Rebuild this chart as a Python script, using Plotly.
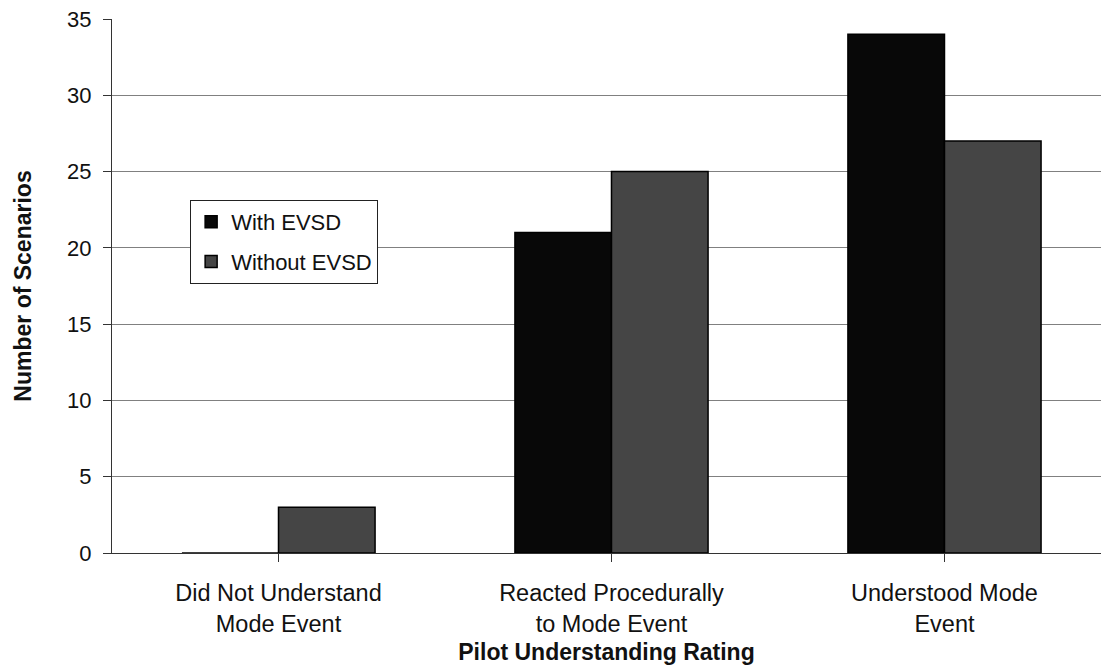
import plotly.graph_objects as go

categories = ["Did Not Understand<br>Mode Event",
              "Reacted Procedurally<br>to Mode Event",
              "Understood Mode<br>Event"]
with_evsd = [0, 21, 34]
without_evsd = [3, 25, 27]
y_ticks = [0, 5, 10, 15, 20, 25, 30, 35]

FONT = "Arial, Liberation Sans, Helvetica, sans-serif"
INK = "#111111"

fig = go.Figure()
fig.add_trace(go.Bar(x=[0, 1, 2], y=with_evsd, name="With EVSD", legendgroup="a",
                     marker=dict(color="#080808", line=dict(color="#000000", width=1.5))))
fig.add_trace(go.Bar(x=[0, 1, 2], y=without_evsd, name="Without EVSD", legendgroup="b",
                     marker=dict(color="#454545", line=dict(color="#000000", width=1.5))))

fig.update_layout(
    width=1101, height=665,
    margin=dict(l=112, r=0, t=19, b=112),
    paper_bgcolor="white", plot_bgcolor="white",
    barmode="group", bargap=0.42, bargroupgap=0,
    font=dict(family=FONT, size=21, color=INK),
    showlegend=True,
    legend=dict(x=0.079, y=0.661, xanchor="left", yanchor="top",
                bgcolor="white", bordercolor="#222222", borderwidth=1,
                font=dict(size=22, family=FONT, color=INK),
                itemwidth=30, traceorder="grouped", tracegroupgap=8),
    xaxis=dict(
        tickmode="array", tickvals=[0, 1, 2], ticktext=categories,
        range=[-0.5, 2.47], tickson="boundaries", ticks="outside", ticklen=8,
        tickcolor="#333333", showline=True, linecolor="#333333", linewidth=1,
        showgrid=False, zeroline=False, ticklabelstandoff=11,
        tickfont=dict(size=23.5, family=FONT, color=INK),
        title=dict(text="<b>Pilot Understanding Rating</b>", standoff=8,
                   font=dict(size=23, family=FONT, color=INK)),
    ),
    yaxis=dict(
        range=[0, 35], tickmode="array", tickvals=y_ticks,
        ticks="outside", ticklen=8, tickcolor="#333333",
        showline=True, linecolor="#333333", linewidth=1,
        showgrid=True, gridcolor="#808080", gridwidth=1,
        zeroline=False, ticklabelstandoff=7,
        tickfont=dict(size=22, family=FONT, color=INK),
        title=dict(text="<b>Number of Scenarios</b>", standoff=29,
                   font=dict(size=23, family=FONT, color=INK)),
    ),
)

fig.write_html(
    "out.html",
    config={"displayModeBar": False},
    post_script="document.documentElement.style.overflow='hidden';"
                "document.body.style.margin='0';document.body.style.overflow='hidden';",
)
